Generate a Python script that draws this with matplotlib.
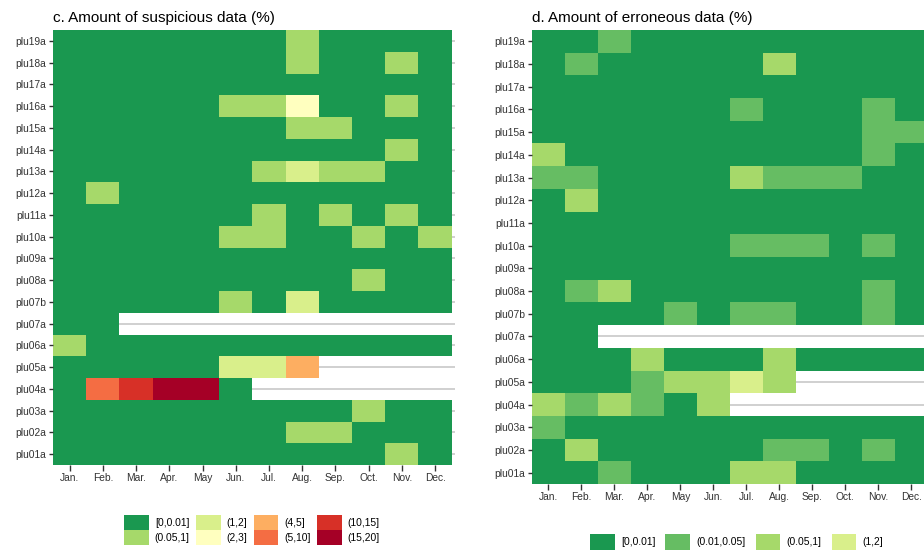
import numpy as np
import matplotlib
matplotlib.use("Agg")
import matplotlib.pyplot as plt
from matplotlib.colors import ListedColormap, BoundaryNorm
from matplotlib.patches import Patch

plt.rcParams['font.family'] = ['Liberation Sans', 'DejaVu Sans']

# classi e colori (RdYlGn)
bins = ["[0,0.01]", "(0.01,0.05]", "(0.05,1]", "(1,2]", "(2,3]",
        "(4,5]", "(5,10]", "(10,15]", "(15,20]"]
bin_colors = ["#1a9850", "#66bd63", "#a6d96a", "#d9ef8b", "#ffffbf",
              "#fdae61", "#f46d43", "#d73027", "#a50026"]

months = ["Jan.", "Feb.", "Mar.", "Apr.", "May", "Jun.", "Jul.", "Aug.",
          "Sep.", "Oct.", "Nov.", "Dec."]
stations = ["plu19a", "plu18a", "plu17a", "plu16a", "plu15a", "plu14a",
            "plu13a", "plu12a", "plu11a", "plu10a", "plu09a", "plu08a",
            "plu07b", "plu07a", "plu06a", "plu05a", "plu04a", "plu03a",
            "plu02a", "plu01a"]

N = None  # dato mancante

# indice della classe per ogni stazione/mese
suspicious = [
    [0, 0, 0, 0, 0, 0, 0, 2, 0, 0, 0, 0],
    [0, 0, 0, 0, 0, 0, 0, 2, 0, 0, 2, 0],
    [0, 0, 0, 0, 0, 0, 0, 0, 0, 0, 0, 0],
    [0, 0, 0, 0, 0, 2, 2, 4, 0, 0, 2, 0],
    [0, 0, 0, 0, 0, 0, 0, 2, 2, 0, 0, 0],
    [0, 0, 0, 0, 0, 0, 0, 0, 0, 0, 2, 0],
    [0, 0, 0, 0, 0, 0, 2, 3, 2, 2, 0, 0],
    [0, 2, 0, 0, 0, 0, 0, 0, 0, 0, 0, 0],
    [0, 0, 0, 0, 0, 0, 2, 0, 2, 0, 2, 0],
    [0, 0, 0, 0, 0, 2, 2, 0, 0, 2, 0, 2],
    [0, 0, 0, 0, 0, 0, 0, 0, 0, 0, 0, 0],
    [0, 0, 0, 0, 0, 0, 0, 0, 0, 2, 0, 0],
    [0, 0, 0, 0, 0, 2, 0, 3, 0, 0, 0, 0],
    [0, 0, N, N, N, N, N, N, N, N, N, N],
    [2, 0, 0, 0, 0, 0, 0, 0, 0, 0, 0, 0],
    [0, 0, 0, 0, 0, 3, 3, 5, N, N, N, N],
    [0, 6, 7, 8, 8, 0, N, N, N, N, N, N],
    [0, 0, 0, 0, 0, 0, 0, 0, 0, 2, 0, 0],
    [0, 0, 0, 0, 0, 0, 0, 2, 2, 0, 0, 0],
    [0, 0, 0, 0, 0, 0, 0, 0, 0, 0, 2, 0],
]

erroneous = [
    [0, 0, 1, 0, 0, 0, 0, 0, 0, 0, 0, 0],
    [0, 1, 0, 0, 0, 0, 0, 2, 0, 0, 0, 0],
    [0, 0, 0, 0, 0, 0, 0, 0, 0, 0, 0, 0],
    [0, 0, 0, 0, 0, 0, 1, 0, 0, 0, 1, 0],
    [0, 0, 0, 0, 0, 0, 0, 0, 0, 0, 1, 1],
    [2, 0, 0, 0, 0, 0, 0, 0, 0, 0, 1, 0],
    [1, 1, 0, 0, 0, 0, 2, 1, 1, 1, 0, 0],
    [0, 2, 0, 0, 0, 0, 0, 0, 0, 0, 0, 0],
    [0, 0, 0, 0, 0, 0, 0, 0, 0, 0, 0, 0],
    [0, 0, 0, 0, 0, 0, 1, 1, 1, 0, 1, 0],
    [0, 0, 0, 0, 0, 0, 0, 0, 0, 0, 0, 0],
    [0, 1, 2, 0, 0, 0, 0, 0, 0, 0, 1, 0],
    [0, 0, 0, 0, 1, 0, 1, 1, 0, 0, 1, 0],
    [0, 0, N, N, N, N, N, N, N, N, N, N],
    [0, 0, 0, 2, 0, 0, 0, 2, 0, 0, 0, 0],
    [0, 0, 0, 1, 2, 2, 3, 2, N, N, N, N],
    [2, 1, 2, 1, 0, 2, N, N, N, N, N, N],
    [1, 0, 0, 0, 0, 0, 0, 0, 0, 0, 0, 0],
    [0, 2, 0, 0, 0, 0, 0, 1, 1, 0, 1, 0],
    [0, 0, 1, 0, 0, 0, 2, 2, 0, 0, 0, 0],
]

cmap = ListedColormap(bin_colors)
norm = BoundaryNorm(np.arange(len(bins) + 1) - 0.5, cmap.N)

W, H = 924, 558
fig = plt.figure(figsize=(W / 100, H / 100), dpi=100)


def px(l, t, r, b):
    return [l / W, 1 - b / H, (r - l) / W, (b - t) / H]


def heatmap(ax, data, title):
    m = np.array([[np.nan if v is None else v for v in row] for row in data], dtype=float)
    m = np.ma.masked_invalid(m)
    nrow = len(stations)
    for i in range(nrow):
        ax.axhline(i, color="#c8c8c8", lw=1.2, zorder=0)
    # prima riga in alto
    ax.pcolormesh(np.arange(13) - 0.5, np.arange(nrow + 1) - 0.5, m[::-1],
                  cmap=cmap, norm=norm, zorder=1)
    ax.set_xlim(-0.5, 11.6)
    ax.set_ylim(-0.5, nrow - 0.5)
    ax.set_xticks(range(12))
    ax.set_xticklabels(months)
    ax.set_yticks(range(nrow))
    ax.set_yticklabels(stations[::-1])
    for s in ax.spines.values():
        s.set_visible(False)
    ax.tick_params(axis="both", labelsize=7.4, colors="#333333", length=3, width=1, pad=2)
    ax.tick_params(axis="x", length=4)
    ax.set_facecolor("white")
    fig.text(ax.get_position().x0, 1 - 22 / H, title, fontsize=11, color="black",
             ha="left", va="baseline")


ax1 = fig.add_axes(px(53, 30, 455, 465))
heatmap(ax1, suspicious, "c. Amount of suspicious data (%)")

ax2 = fig.add_axes(px(532, 30, 931, 484))
heatmap(ax2, erroneous, "d. Amount of erroneous data (%)")

# legende
order1 = [0, 2, 3, 4, 5, 6, 7, 8]
h1 = [Patch(facecolor=bin_colors[k], edgecolor="none", label=bins[k]) for k in order1]
fig.legend(handles=h1, ncol=4, loc="upper left", bbox_to_anchor=(124 / W, 1 - 515 / H),
           frameon=False, fontsize=7.4, handlelength=2.4, handleheight=1.85,
           handletextpad=0.6, labelspacing=0, columnspacing=0.6,
           borderpad=0, borderaxespad=0)

order2 = [0, 1, 2, 3]
h2 = [Patch(facecolor=bin_colors[k], edgecolor="none", label=bins[k]) for k in order2]
fig.legend(handles=h2, ncol=4, loc="upper left", bbox_to_anchor=(590 / W, 1 - 534 / H),
           frameon=False, fontsize=7.4, handlelength=2.4, handleheight=2.0,
           handletextpad=0.6, labelspacing=0, columnspacing=1.0,
           borderpad=0, borderaxespad=0)

fig.savefig("out.png", dpi=100)
